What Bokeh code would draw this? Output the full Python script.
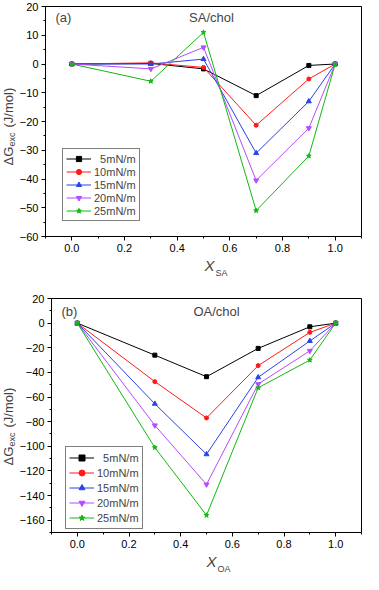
import math
from bokeh.plotting import figure
from bokeh.layouts import column, row
from bokeh.models import (Legend, LegendItem, Label, SingleIntervalTicker,
                          NumeralTickFormatter, Range1d)
from bokeh.embed import file_html
from bokeh.resources import INLINE

# ---------------- data ----------------
x_frac = [0.0, 0.3, 0.5, 0.7, 0.9, 1.0]
series_labels = ["\u20075mN/m", "10mN/m", "15mN/m", "20mN/m", "25mN/m"]

sa_5 = [0, 0.2, -1.7, -11.0, -0.5, 0]
sa_10 = [0, 0.4, -1.2, -21.3, -5.2, 0]
sa_15 = [0, 0.0, 1.7, -31.0, -13.0, 0]
sa_20 = [0, -1.7, 5.8, -40.5, -22.3, 0]
sa_25 = [0, -6.0, 11.0, -51.0, -32.0, 0]

oa_5 = [0, -26.0, -43.5, -20.5, -3.0, 0]
oa_10 = [0, -47.5, -77.0, -34.5, -7.5, 0]
oa_15 = [0, -65.5, -106.5, -44.0, -14.5, 0]
oa_20 = [0, -83.0, -131.0, -49.5, -22.5, 0]
oa_25 = [0, -101.0, -156.0, -52.5, -30.0, 0]

colors = ["#000000", "#ff1a1a", "#2a44e6", "#b44cff", "#12b812"]
markers = ["square", "circle", "triangle", "inverted_triangle", "star"]
msizes = [4, 4, 5, 5, 5]

FONT = "Liberation Sans"
W = 363
YL_W = 16
RB = 2  # right border of the plots


def helper(width, height, left=0, right=0, top=0, bottom=0):
    h = figure(width=width, height=height, output_backend="svg",
               toolbar_location=None, x_range=Range1d(0, 1), y_range=Range1d(0, 1),
               x_axis_type=None, y_axis_type=None,
               min_border_left=left, min_border_right=right,
               min_border_top=top, min_border_bottom=bottom)
    h.xgrid.visible = False
    h.ygrid.visible = False
    h.outline_line_color = None
    return h


def ylabel_fig(height, top, bottom, shift):
    f = helper(YL_W, height, top=top, bottom=bottom)
    fh = height - top - bottom
    start = fh / 2 - 44 + shift
    xc = 8
    f.add_layout(Label(x=xc, y=start, x_units="screen", y_units="screen",
                       text="\u0394G", angle=math.pi / 2, text_font=FONT,
                       text_font_size="13px", text_baseline="middle",
                       text_align="left"))
    f.add_layout(Label(x=xc + 3, y=start + 19, x_units="screen", y_units="screen",
                       text="exc", angle=math.pi / 2, text_font=FONT,
                       text_font_size="9px", text_baseline="middle",
                       text_align="left"))
    f.add_layout(Label(x=xc, y=start + 38, x_units="screen", y_units="screen",
                       text="(J/mol)", angle=math.pi / 2, text_font=FONT,
                       text_font_size="13px", text_baseline="middle",
                       text_align="left"))
    return f


def xlabel_fig(height, b_left, fw, y_main, sub):
    f = helper(W - YL_W, height, left=b_left, right=RB)
    xc = fw / 2 + 6
    f.add_layout(Label(x=xc, y=height - y_main, x_units="screen", y_units="screen",
                       text="X", text_font=FONT, text_font_size="15px",
                       text_font_style="italic", text_baseline="middle",
                       text_align="right"))
    f.add_layout(Label(x=xc + 1, y=height - y_main - 7, x_units="screen",
                       y_units="screen", text=sub, text_font=FONT,
                       text_font_size="9px", text_baseline="middle",
                       text_align="left"))
    return f


def make_panel(series, y_lo, y_hi, y_step, height, b_left, b_top, b_bottom,
               tag, title, legend_loc, legend_gh, tag_dy, title_dx):
    width = W - YL_W
    p = figure(width=width, height=height, output_backend="svg", toolbar_location=None,
               x_range=Range1d(-0.1, 1.1), y_range=Range1d(y_lo, y_hi),
               min_border_left=b_left, min_border_right=RB,
               min_border_top=b_top, min_border_bottom=b_bottom)
    p.xgrid.visible = False
    p.ygrid.visible = False
    p.outline_line_color = "black"
    p.outline_line_width = 1
    p.outline_line_alpha = 1
    p.background_fill_color = "white"

    p.xaxis.ticker = SingleIntervalTicker(interval=0.2, num_minor_ticks=2)
    p.xaxis.formatter = NumeralTickFormatter(format="0.0")
    p.yaxis.ticker = SingleIntervalTicker(interval=y_step, num_minor_ticks=2)
    for ax in (p.xaxis[0], p.yaxis[0]):
        ax.axis_line_color = "black"
        ax.major_tick_line_color = "black"
        ax.minor_tick_line_color = "black"
        ax.major_tick_in = 0
        ax.major_tick_out = 4
        ax.minor_tick_in = 0
        ax.minor_tick_out = 2
        ax.major_label_text_font = FONT
        ax.major_label_text_font_size = "11px"
        ax.major_label_text_color = "black"
        ax.major_label_standoff = 3

    items = []
    for ys, lab, c, m, s in zip(series, series_labels, colors, markers, msizes):
        r1 = p.line(x_frac, ys, line_color=c, line_width=1)
        r2 = p.scatter(x_frac, ys, marker=m, size=s, fill_color=c, line_color=c)
        items.append(LegendItem(label=lab, renderers=[r1, r2]))

    leg = Legend(items=items, location=legend_loc, glyph_width=25,
                 glyph_height=legend_gh, label_height=legend_gh, spacing=0,
                 padding=3, margin=0, label_standoff=3,
                 label_text_font=FONT, label_text_font_size="11px",
                 border_line_color="black", border_line_width=1,
                 background_fill_color="white", background_fill_alpha=1)
    p.add_layout(leg)

    fw = width - b_left - RB
    fh = height - b_top - b_bottom

    p.add_layout(Label(x=10, y=fh - tag_dy, x_units="screen", y_units="screen",
                       text=tag, text_font=FONT, text_font_size="13px",
                       text_baseline="middle", text_align="left"))
    p.add_layout(Label(x=fw / 2 + title_dx, y=fh - tag_dy, x_units="screen",
                       y_units="screen", text=title, text_font=FONT,
                       text_font_size="13px", text_baseline="middle",
                       text_align="center"))
    return p, fw


# ---- panel (a) ----
A_H, A_LEFT, A_TOP, A_BOT, A_XH = 256, 19, 6, 20, 26
pa, fwa = make_panel([sa_5, sa_10, sa_15, sa_20, sa_25], -60, 20, 10,
                     A_H, A_LEFT, A_TOP, A_BOT,
                     "(a)", "SA/chol", (17, 15), 13, 11, 3)
xa = xlabel_fig(A_XH, A_LEFT, fwa, 9, "SA")
ya = ylabel_fig(A_H + A_XH, A_TOP, A_BOT + A_XH, 0)

# ---- panel (b) ----
B_H, B_LEFT, B_TOP, B_BOT, B_XH = 270, 27, 16, 20, 22
pb, fwb = make_panel([oa_5, oa_10, oa_15, oa_20, oa_25], -170, 20, 20,
                     B_H, B_LEFT, B_TOP, B_BOT,
                     "(b)", "OA/chol", (14, 3), 15, 13, 6)
xb = xlabel_fig(B_XH, B_LEFT, fwb, 9, "OA")
yb = ylabel_fig(B_H + B_XH, B_TOP, B_BOT + B_XH, -6)

layout = column(row(ya, column(pa, xa, spacing=0), spacing=0),
                row(yb, column(pb, xb, spacing=0), spacing=0), spacing=0)
open("out.html", "w").write(file_html(layout, INLINE))
